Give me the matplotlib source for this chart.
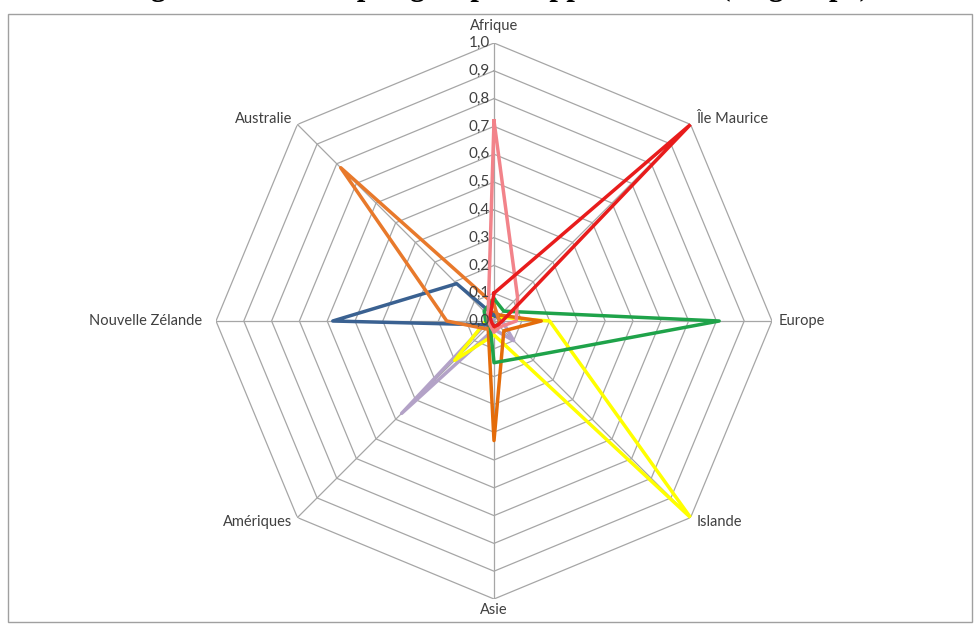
import numpy as np
import matplotlib.pyplot as plt
from matplotlib.patches import Rectangle

# axes of the radar, clockwise from the top
regions = ['Afrique', 'Île Maurice', 'Europe', 'Islande', 'Asie',
           'Amériques', 'Nouvelle Zélande', 'Australie']
ticks = [0.0, 0.1, 0.2, 0.3, 0.4, 0.5, 0.6, 0.7, 0.8, 0.9, 1.0]
tick_labels = ['0,0', '0,1', '0,2', '0,3', '0,4', '0,5', '0,6', '0,7', '0,8', '0,9', '1,0']

# one series per group (share of the group)
grp_afrique = [0.72, 0.12, 0.08, 0.03, 0.04, 0.02, 0.02, 0.03]
grp_maurice = [0.10, 1.00, 0.03, 0.02, 0.02, 0.01, 0.01, 0.02]
grp_europe = [0.08, 0.05, 0.81, 0.18, 0.15, 0.02, 0.03, 0.05]
grp_islande = [0.02, 0.02, 0.20, 1.00, 0.05, 0.20, 0.03, 0.02]
grp_asie = [0.03, 0.03, 0.17, 0.05, 0.43, 0.03, 0.02, 0.03]
grp_ameriques = [0.01, 0.02, 0.03, 0.10, 0.03, 0.47, 0.02, 0.02]
grp_nz = [0.02, 0.02, 0.02, 0.02, 0.02, 0.02, 0.58, 0.19]
grp_australie = [0.06, 0.02, 0.02, 0.02, 0.03, 0.04, 0.17, 0.78]

series = [
    (grp_ameriques, '#B3A2C7'),
    (grp_islande, '#FFFF00'),
    (grp_asie, '#E46C0A'),
    (grp_nz, '#3A6191'),
    (grp_australie, '#E8792B'),
    (grp_europe, '#1FA34A'),
    (grp_afrique, '#F2838A'),
    (grp_maurice, '#E81C1C'),
]

plt.rcParams['font.family'] = ['Lato', 'DejaVu Sans']

fig = plt.figure(figsize=(9.75, 6.24), dpi=100)

# grey frame round the chart area
fig.patches.append(Rectangle((8 / 975, 2 / 624), 964 / 975, 608 / 624,
                             transform=fig.transFigure, fill=False,
                             edgecolor='#A0A0A0', lw=1))

# title, only its lower edge shows at the top like in the picture
fig.text(0.5, 1 + 5 / 624, "Origine des sondés par groupe d'appartenance (% groupe)",
         ha='center', va='baseline', fontsize=22, fontweight='bold',
         family='Liberation Serif')

cx, cy, R = 494, 624 - 321, 278
ax = fig.add_axes([(cx - R) / 975, (cy - R) / 624, 2 * R / 975, 2 * R / 624],
                  projection='polar')
ax.set_theta_offset(np.pi / 2)
ax.set_theta_direction(-1)
ax.set_ylim(0, 1)
ax.grid(False)
ax.spines['polar'].set_visible(False)
ax.set_xticks([])
ax.set_yticks([])

n = len(regions)
theta = np.arange(n) * 2 * np.pi / n
theta_c = np.append(theta, theta[0])

# octagon grid
for r in ticks[1:]:
    ax.plot(theta_c, [r] * (n + 1), color='#A6A6A6', lw=0.9, zorder=1)
for t in theta:
    ax.plot([t, t], [0, 1], color='#A6A6A6', lw=0.9, zorder=1)

for vals, col in series:
    ax.plot(theta_c, vals + vals[:1], color=col, lw=2.5, zorder=3)

for r, lab in zip(ticks, tick_labels):
    ax.annotate(lab, xy=(0, r), xytext=(-3, 0), textcoords='offset points',
                ha='right', va='center', fontsize=11, color='#404040', zorder=4)

# label placement around the octagon
lab_off = [(0, 7), (4, 4), (5, 0), (4, -3), (0, -3), (-4, -3), (-10, 0), (-4, 4)]
lab_ha = ['center', 'left', 'left', 'left', 'center', 'right', 'right', 'right']
lab_va = ['bottom', 'center', 'center', 'center', 'top', 'center', 'center', 'center']
for t, name, off, ha, va in zip(theta, regions, lab_off, lab_ha, lab_va):
    ax.annotate(name, xy=(t, 1.0), xytext=off, textcoords='offset points',
                ha=ha, va=va, fontsize=10.5, color='#404040', annotation_clip=False)

fig.savefig('out.png', dpi=100)
